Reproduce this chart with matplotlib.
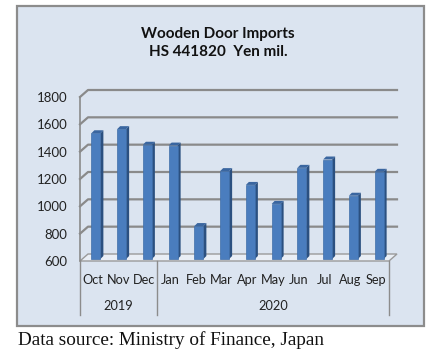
import matplotlib
matplotlib.use("Agg")
import matplotlib.pyplot as plt
from matplotlib.patches import Rectangle, Polygon

# Data (Yen mil.)
months = ['Oct', 'Nov', 'Dec', 'Jan', 'Feb', 'Mar', 'Apr', 'May', 'Jun', 'Jul', 'Aug', 'Sep']
years = ['2019', '2020']
year_span = [3, 9]          # months in each year group
imports = [1520, 1550, 1436, 1430, 841, 1243, 1142, 1003, 1267, 1328, 1063, 1238]
yticks = [600, 800, 1000, 1200, 1400, 1600, 1800]

W, H = 438, 358
fig = plt.figure(figsize=(W / 100, H / 100), dpi=100)

# outer chart box
fig.patches.append(Rectangle((17 / W, (H - 326) / H), (424 - 17) / W, (326 - 6) / H,
                             transform=fig.transFigure, facecolor='#dbe4f0',
                             edgecolor='#8c8c8c', lw=1.6, zorder=-5))

# front plane of the 3D plot area
left, right, y0, y1 = 80, 389, 261, 97
ax = fig.add_axes([left / W, (H - y0) / H, (right - left) / W, (y0 - y1) / H])
ax.set_xlim(-0.5, len(months) - 0.5)
ax.set_ylim(600, 1800)
ax.patch.set_visible(False)
for s in ax.spines.values():
    s.set_visible(False)

ppx = (right - left) / len(months)
ppy = (y0 - y1) / (1800 - 600)
bx, by = 8 / ppx, 7 / ppy      # depth of the plot (front -> back wall)
grid_c = '#8a8a8a'

# floor
xl, xr = -0.5, len(months) - 0.5
ax.add_patch(Polygon([(xl, 600), (xr, 600), (xr + bx, 600 + by), (xl + bx, 600 + by)],
                     closed=True, facecolor='#e9eef5', edgecolor='#9a9a9a', lw=1,
                     clip_on=False, zorder=1))
# left wall edge and back-wall gridlines
ax.plot([xl, xl], [600, 1800], color=grid_c, lw=1.2, clip_on=False, zorder=1)
for v in yticks[1:]:
    ax.plot([xl, xl + bx, xr + bx], [v, v + by, v + by], color=grid_c, lw=1.6,
            clip_on=False, zorder=1)

# 3D-ish bars
w = 9 / ppx
dx, dy = 3 / ppx, 3 / ppy
ox, oy = 3 / ppx, 2 / ppy
for i, v in enumerate(imports):
    x = i + ox
    b = 600 + oy
    t = v + oy
    ax.add_patch(Polygon([(x + w / 2, b), (x + w / 2 + dx, b + dy), (x + w / 2 + dx, t + dy),
                          (x + w / 2, t)], closed=True, facecolor='#2b5080',
                         edgecolor='none', clip_on=False, zorder=3))
    ax.add_patch(Polygon([(x - w / 2, t), (x + w / 2, t), (x + w / 2 + dx, t + dy),
                          (x - w / 2 + dx, t + dy)], closed=True, facecolor='#3a66a0',
                         edgecolor='none', clip_on=False, zorder=3))
    ax.bar(x, v - 600, bottom=b, width=w, color='#4a7dbe', edgecolor='#3f6ea9',
           lw=0.5, clip_on=False, zorder=3)

# value axis labels
ax.set_yticks(yticks)
ax.set_yticklabels([str(v) for v in yticks], fontfamily='Lato', fontsize=9.5,
                   color='#222222')
ax.tick_params(axis='y', length=0, pad=9)
ax.set_xticks([])

# category + year labels
xt = ax.get_xaxis_transform()
for i, m in enumerate(months):
    ax.text(i, -0.116, m, transform=xt, ha='center', va='center',
            fontfamily='Lato', fontsize=9.2, color='#222222')
start = 0
seps = [xl]
for yr, n in zip(years, year_span):
    ax.text(start + (n - 1) / 2, -0.274, yr, transform=xt, ha='center', va='center',
            fontfamily='Lato', fontsize=9.2, color='#222222')
    start += n
    seps.append(start - 0.5)
for s in seps:
    ax.plot([s, s], [0, -0.33], transform=xt, color='#8c8c8c', lw=1, clip_on=False)

# title
fig.text(218 / W, (H - 34) / H, 'Wooden Door Imports', ha='center', va='center',
         fontfamily='Lato', fontweight='bold', fontsize=11, color='#111111')
fig.text(218 / W, (H - 52) / H, 'HS 441820  Yen mil.', ha='center', va='center',
         fontfamily='Lato', fontweight='bold', fontsize=11, color='#111111')

# source note
fig.text(18 / W, (H - 340) / H, 'Data source: Ministry of Finance, Japan', ha='left',
         va='center', fontfamily='Liberation Serif', fontsize=13.8, color='#111111')

fig.savefig('out.png', dpi=100)
